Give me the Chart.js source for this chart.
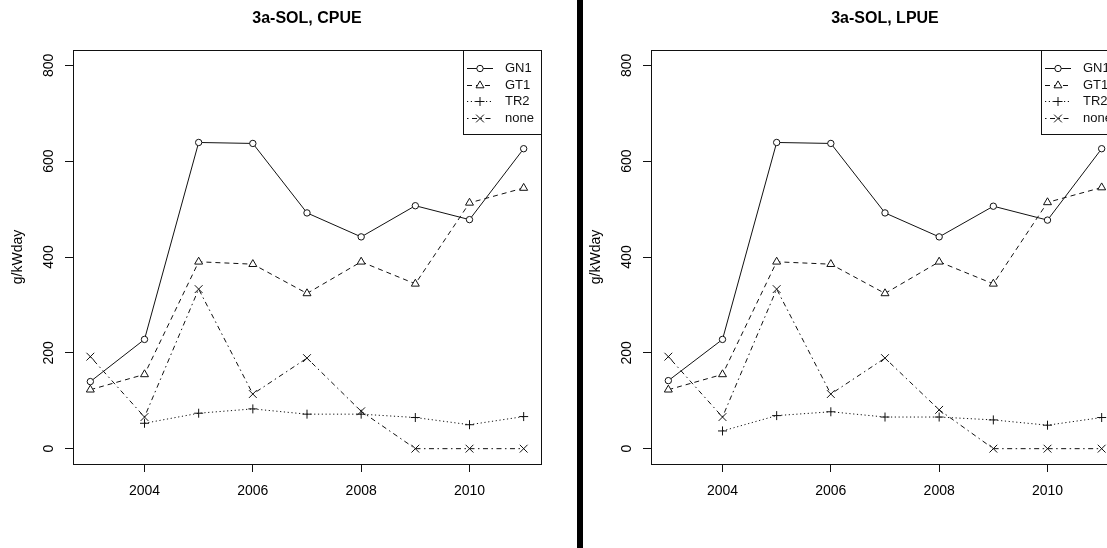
<!DOCTYPE html>
<html>
<head>
<meta charset="utf-8">
<script src="https://cdn.jsdelivr.net/npm/chart.js@4.4.1/dist/chart.umd.min.js"></script>
<style>
html, body { margin: 0; padding: 0; background: #fff; overflow: hidden; }
#wrap { position: relative; width: 1107px; height: 548px; overflow: hidden; }
#cpue { position: absolute; left: 0; top: 0; }
#lpue { position: absolute; left: 578px; top: 0; }
#divider { position: absolute; left: 577px; top: 0; width: 6px; height: 548px; background: #000; }
</style>
</head>
<body>
<div id="wrap">
  <canvas id="cpue" width="577" height="548"></canvas>
  <canvas id="lpue" width="577" height="548"></canvas>
  <div id="divider"></div>
</div>
<script>
// data
var years = [2003, 2004, 2005, 2006, 2007, 2008, 2009, 2010, 2011];
var seriesNames = ['GN1', 'GT1', 'TR2', 'none'];
var xTicks = [2004, 2006, 2008, 2010];
var yTicks = [0, 200, 400, 600, 800];

var cpueGN1 = [140, 228, 639, 637, 492, 442, 507, 478, 626];
var cpueGT1 = [123, 155, 390, 385, 324, 390, 344, 513, 544];
var cpueTR2 = [null, 53, 74, 83, 72, 72, 65, 50, 67];
var cpueNone = [192, 66, 333, 114, 189, 78, 0, 0, 0];

var lpueGN1 = [142, 228, 639, 637, 492, 442, 506, 477, 626];
var lpueGT1 = [123, 155, 390, 385, 324, 390, 344, 514, 545];
var lpueTR2 = [null, 37, 69, 77, 66, 66, 60, 49, 65];
var lpueNone = [192, 66, 333, 114, 189, 81, 0, 0, 0];

Chart.defaults.font.family = '"Liberation Sans", Arial, sans-serif';
Chart.defaults.color = '#000';

var ink = '#111';
// R style line types: solid, dashed, dotted, dotdash
var lineStyles = [
  { dash: [], point: 'circle', r: 3.2 },
  { dash: [5, 4], point: 'triangle', r: 4.6 },
  { dash: [1.2, 2.6], point: 'cross', r: 4.5 },
  { dash: [1.5, 3.5, 5, 3.5], point: 'crossRot', r: 5.5 }
];

function toPoints(vals) {
  return years.map(function (yr, i) { return { x: yr, y: vals[i] }; });
}

// plot frame like box() in R
var boxPlugin = {
  id: 'boxPlugin',
  afterDraw: function (chart) {
    var a = chart.chartArea, ctx = chart.ctx;
    ctx.save();
    ctx.strokeStyle = ink;
    ctx.lineWidth = 1;
    ctx.strokeRect(Math.round(a.left) + 0.5, Math.round(a.top) + 0.5,
      Math.round(a.right - a.left), Math.round(a.bottom - a.top));
    ctx.restore();
  }
};

// topright legend with box
var legendPlugin = {
  id: 'legendPlugin',
  afterDraw: function (chart) {
    var ctx = chart.ctx, a = chart.chartArea;
    var w = 78, h = 84;
    var x0 = Math.round(a.right) - w, y0 = Math.round(a.top);
    ctx.save();
    ctx.fillStyle = '#fff';
    ctx.fillRect(x0, y0, w, h);
    ctx.strokeStyle = ink;
    ctx.lineWidth = 1;
    ctx.strokeRect(x0 + 0.5, y0 + 0.5, w, h);
    ctx.font = '13px "Liberation Sans", Arial, sans-serif';
    ctx.textBaseline = 'middle';
    chart.data.datasets.forEach(function (ds, i) {
      var y = Math.round(y0 + 18 + i * 16.6) + 0.5;
      ctx.strokeStyle = ink;
      ctx.setLineDash(ds.borderDash);
      ctx.beginPath();
      ctx.moveTo(x0 + 4, y);
      ctx.lineTo(x0 + 30, y);
      ctx.stroke();
      ctx.setLineDash([]);
      ctx.fillStyle = '#fff';
      Chart.helpers.drawPoint(ctx, { pointStyle: ds.pointStyle, radius: ds.pointRadius, borderWidth: 1, rotation: 0 }, x0 + 17, y);
      ctx.fillStyle = ink;
      ctx.fillText(ds.label, x0 + 42, y);
    });
    ctx.restore();
  }
};

function makeChart(id, title, gn1, gt1, tr2, none) {
  var all = [gn1, gt1, tr2, none];
  var datasets = all.map(function (vals, i) {
    return {
      label: seriesNames[i],
      data: toPoints(vals),
      borderColor: ink,
      borderWidth: 1,
      borderDash: lineStyles[i].dash,
      pointStyle: lineStyles[i].point,
      pointRadius: lineStyles[i].r,
      pointBorderColor: ink,
      pointBackgroundColor: '#fff',
      pointBorderWidth: 1,
      tension: 0,
      spanGaps: false
    };
  });

  return new Chart(document.getElementById(id), {
    type: 'line',
    data: { datasets: datasets },
    plugins: [boxPlugin, legendPlugin],
    options: {
      responsive: false,
      animation: false,
      devicePixelRatio: 1,
      layout: { padding: { left: 0, right: 36, top: 0, bottom: 0 } },
      plugins: {
        legend: { display: false },
        tooltip: { enabled: false },
        title: {
          display: true,
          text: title,
          fullSize: false,
          color: '#000',
          font: { size: 16, weight: 'bold' },
          padding: { top: 9, bottom: 21.8 }
        }
      },
      scales: {
        x: {
          type: 'linear',
          min: 2002.68,
          max: 2011.32,
          afterBuildTicks: function (s) { s.ticks = xTicks.map(function (v) { return { value: v }; }); },
          ticks: { callback: function (v) { return String(v); }, font: { size: 14 }, padding: 11, maxRotation: 0, autoSkip: false },
          grid: { drawOnChartArea: false, tickLength: 8, color: ink },
          border: { color: ink },
          afterFit: function (s) { s.height = 84; }
        },
        y: {
          min: -32,
          max: 832,
          afterBuildTicks: function (s) { s.ticks = yTicks.map(function (v) { return { value: v }; }); },
          ticks: { callback: function (v) { return String(v); }, font: { size: 14 }, padding: 4, minRotation: 90, maxRotation: 90, crossAlign: 'center' },
          grid: { drawOnChartArea: false, tickLength: 8, color: ink },
          border: { color: ink },
          title: { display: true, text: 'g/kWday', font: { size: 14 }, padding: { top: 10, bottom: 0 } },
          afterFit: function (s) { s.width = 73; }
        }
      }
    }
  });
}

makeChart('cpue', '3a-SOL, CPUE', cpueGN1, cpueGT1, cpueTR2, cpueNone);
makeChart('lpue', '3a-SOL, LPUE', lpueGN1, lpueGT1, lpueTR2, lpueNone);
</script>
</body>
</html>
